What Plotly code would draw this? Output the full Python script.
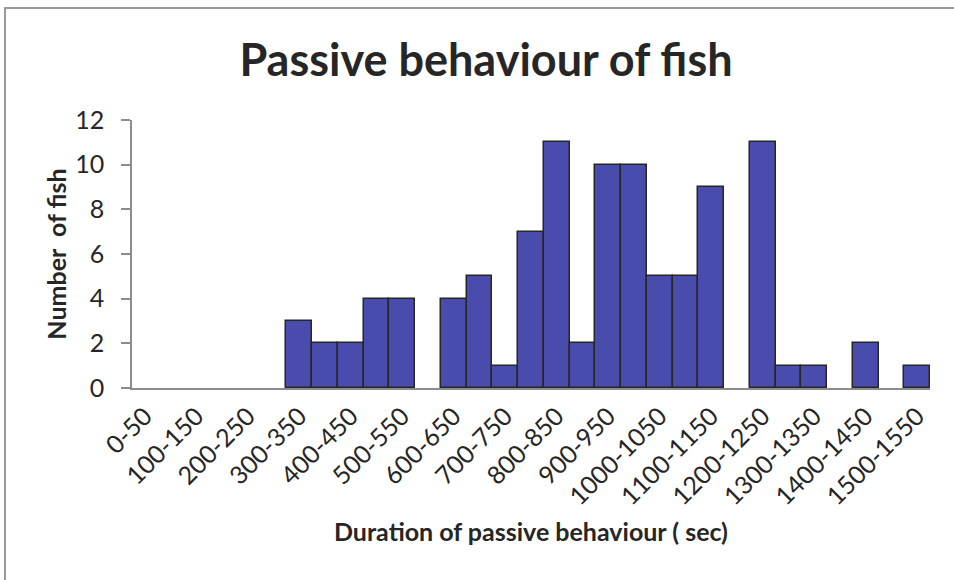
import plotly.graph_objects as go

# Duration bins (seconds) and number of fish in each
bin_labels = [f"{lo}-{lo + 50}" for lo in range(0, 1550, 50)]
fish_counts = [0, 0, 0, 0, 0, 0, 3, 2, 2, 4, 4, 0, 4, 5, 1, 7, 11, 2,
               10, 10, 5, 5, 9, 0, 11, 1, 1, 0, 2, 0, 1]
y_ticks = [0, 2, 4, 6, 8, 10, 12]

W, H = 954, 580
L, R, T, B = 132, 24, 120, 192
pw, ph = W - L - R, H - T - B

font_family = "Lato, 'Open Sans', sans-serif"

# empty bins are left blank rather than drawn as flat outlined bars
bar_heights = [c if c > 0 else None for c in fish_counts]

fig = go.Figure(go.Bar(
    x=bin_labels,
    y=bar_heights,
    marker=dict(color="#4a4cad", line=dict(color="#262626", width=1.5)),
    width=1.0,
))

fig.update_layout(
    width=W, height=H,
    margin=dict(l=L, r=R, t=T, b=B),
    paper_bgcolor="white", plot_bgcolor="white",
    bargap=0,
    showlegend=False,
    font=dict(family=font_family, color="#262626"),
    title=dict(
        text="<b>Passive behaviour of fish</b>",
        font=dict(size=45, family=font_family, color="#262626"),
        x=486 / W, xanchor="center", xref="container",
        y=1 - 60 / H, yanchor="middle", yref="container",
    ),
    xaxis=dict(
        type="category",
        tickmode="array",
        tickvals=bin_labels[::2],
        ticktext=bin_labels[::2],
        tickangle=-45,
        tickfont=dict(size=25),
        showline=True, linecolor="#8c8c8c", linewidth=1.5,
        ticks="", showgrid=False,
        ticklabelstandoff=2,
        range=[-0.5, len(bin_labels) - 0.5],
        title=dict(text="<b>Duration of passive behaviour ( sec)</b>",
                   font=dict(size=25), standoff=14),
    ),
    yaxis=dict(
        range=[0, 12],
        tickvals=y_ticks,
        tickfont=dict(size=25),
        showline=True, linecolor="#8c8c8c", linewidth=1.5,
        ticks="outside", ticklen=9, tickcolor="#8c8c8c", tickwidth=1.5,
        ticklabelstandoff=12,
        showgrid=False, zeroline=False,
        title=dict(text="<b>Number\u00a0 of fish</b>",
                   font=dict(size=25), standoff=1),
    ),
)

# Outer chart-area frame
fig.add_shape(
    type="rect", xref="paper", yref="paper",
    x0=(5 - L) / pw, x1=(W + 10 - L) / pw,
    y0=-(B + 10) / ph, y1=1 + (T - 8) / ph,
    line=dict(color="#9a9a9a", width=2), fillcolor="rgba(0,0,0,0)",
    layer="below",
)

fig.write_html("out.html")
